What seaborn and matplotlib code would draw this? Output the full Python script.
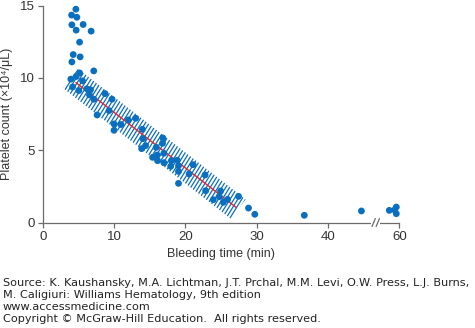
import numpy as np
import pandas as pd
import matplotlib
matplotlib.use("Agg")
import matplotlib.pyplot as plt
import seaborn as sns
from matplotlib.patches import Polygon
from matplotlib.collections import LineCollection
import matplotlib.transforms as mtransforms

# ---------------- data ----------------
bleeding_time = [4.65, 4.05, 4.79, 4.09, 5.67, 4.69, 6.79, 5.17, 4.28, 5.25,
                 4.09, 7.16, 5.17, 4.68, 3.95, 5.59, 4.19, 5.07, 6.19, 6.70,
                 6.56, 7.16, 8.74, 9.72, 7.63, 9.30, 12.0, 13.03, 10.0, 10.98,
                 10.0, 13.97, 14.05, 16.85, 16.80, 14.43, 13.87, 15.92, 16.99, 16.06,
                 15.41, 16.10, 16.99, 18.06, 18.85, 19.04, 17.95, 19.04, 21.09, 20.53,
                 22.77, 19.04, 22.85, 24.94, 24.76, 23.92, 25.93, 25.32, 27.46, 28.86,
                 29.74, 36.68, 44.69, 58.6, 59.58, 59.34, 59.58]
platelet_count = [14.76, 14.35, 14.20, 13.68, 13.70, 13.31, 13.24, 12.48, 11.62, 11.46,
                  11.11, 10.49, 10.35, 10.10, 9.92, 9.80, 9.38, 9.13, 9.25, 9.18,
                  8.83, 8.53, 8.92, 8.53, 7.44, 7.74, 7.10, 7.21, 6.82, 6.78,
                  6.38, 6.45, 5.80, 5.85, 5.48, 5.32, 5.11, 5.20, 4.79, 4.67,
                  4.51, 4.28, 4.14, 4.28, 4.31, 3.93, 3.89, 3.54, 4.00, 3.36,
                  3.29, 2.71, 2.20, 2.18, 1.79, 1.58, 1.60, 1.40, 1.81, 1.00,
                  0.57, 0.50, 0.80, 0.84, 1.07, 0.87, 0.61]
fit_time = [4.65, 27.1]        # regression line end points
fit_count = [9.68, 1.05]
band_time = [3.9, 27.4]        # extent of the hatched band along the fit
x_tick_values = [0, 10, 20, 30, 40, 60]
y_tick_values = [0, 5, 10, 15]
x_label = "Bleeding time (min)"
y_label = "Platelet count (×10⁴/μL)"
footer_lines = [
    "Source: K. Kaushansky, M.A. Lichtman, J.T. Prchal, M.M. Levi, O.W. Press, L.J. Burns,",
    "M. Caligiuri: Williams Hematology, 9th edition",
    "www.accessmedicine.com",
    "Copyright © McGraw-Hill Education.  All rights reserved.",
]

# axis break: values beyond the break are drawn 10 units to the left
BREAK_FROM = 47.0
BREAK_SHIFT = 10.0


def to_axis(x):
    x = np.asarray(x, dtype=float)
    return np.where(x > BREAK_FROM, x - BREAK_SHIFT, x)


BLUE = "#0b6fbf"
RED = "#e3262b"
GREY = "#6b6b6b"
TEXT = "#333333"

sns.set_theme(style="ticks")
plt.rcParams["font.family"] = ["Liberation Sans", "DejaVu Sans"]

DPI = 100
fig = plt.figure(figsize=(4.75, 3.28), dpi=DPI)
ax = fig.add_axes([0.0899, 0.3216, 0.7507, 0.661])
ax.set_xlim(0, 50)
ax.set_ylim(0, 15)

df = pd.DataFrame({"time": to_axis(bleeding_time), "count": platelet_count})

# --- hatched band around the fit (rotated rectangle in screen space) ---
slope = (fit_count[1] - fit_count[0]) / (fit_time[1] - fit_time[0])
bx = np.array(band_time)
by = fit_count[0] + slope * (bx - fit_time[0])
T = ax.transData
P = T.transform(np.column_stack([bx, by]))
u = (P[1] - P[0]) / np.linalg.norm(P[1] - P[0])
n = np.array([-u[1], u[0]])
half_w = 8.8 * DPI / 72.0
corners_disp = np.array([P[0] + half_w * n, P[1] + half_w * n,
                         P[1] - half_w * n, P[0] - half_w * n])
corners_data = T.inverted().transform(corners_disp)
band = Polygon(corners_data, closed=True, facecolor="white", edgecolor="none", zorder=1)
ax.add_patch(band)

theta = np.deg2rad(58)
v = np.array([np.cos(theta), np.sin(theta)])
nv = np.array([-v[1], v[0]])
C = corners_disp.mean(axis=0)
R = np.linalg.norm(P[1] - P[0])
spacing = 3.3 * DPI / 100.0
segs = []
for t in np.arange(-R, R, spacing):
    a = C + t * nv - R * v
    b = C + t * nv + R * v
    segs.append(T.inverted().transform(np.vstack([a, b])))
lc = LineCollection(segs, colors=BLUE, linewidths=0.9, zorder=2)
ax.add_collection(lc)
lc.set_clip_path(band)

# --- regression line and points ---
sns.lineplot(x=fit_time, y=fit_count, ax=ax, color=RED, lw=1.0, zorder=3)
sns.scatterplot(data=df, x="time", y="count", ax=ax, color=BLUE, s=24,
                edgecolor="none", linewidth=0, zorder=4, clip_on=False)

# --- axes styling ---
for side in ["top", "right"]:
    ax.spines[side].set_visible(False)
for side in ["left", "bottom"]:
    ax.spines[side].set_color(GREY)
    ax.spines[side].set_linewidth(0.9)
ax.set_xticks(to_axis(x_tick_values))
ax.set_xticklabels([str(v_) for v_ in x_tick_values])
ax.set_yticks(y_tick_values)
ax.set_yticklabels([str(v_) for v_ in y_tick_values])
ax.tick_params(axis="both", length=3.8, width=0.9, color=GREY, labelsize=9.5,
               labelcolor=TEXT, pad=2)
ax.set_xlabel(x_label, fontsize=9, color=TEXT, labelpad=4)
ax.set_ylabel(y_label, fontsize=9, color=TEXT, labelpad=5)

# --- axis break marks ---
bt = mtransforms.blended_transform_factory(ax.transData, ax.transAxes)
ax.plot([46.05, 47.25], [0, 0], transform=bt, color="white", lw=3,
        solid_capstyle="butt", clip_on=False, zorder=6)
dy = 4.0 / (0.661 * 328)
for x0 in (46.17, 46.75):
    ax.plot([x0, x0 + 0.47], [-dy, dy], transform=bt, color=GREY, lw=0.9,
            clip_on=False, zorder=7)

# --- footer ---
footer_y = [282.7, 295.0, 306.7, 318.7]
for line, yp in zip(footer_lines, footer_y):
    fig.text(3 / 475, 1 - yp / 328, line, fontsize=8.1, color="#222222",
             family=["DejaVu Sans"], ha="left", va="center")

fig.savefig("out.png", dpi=DPI)
